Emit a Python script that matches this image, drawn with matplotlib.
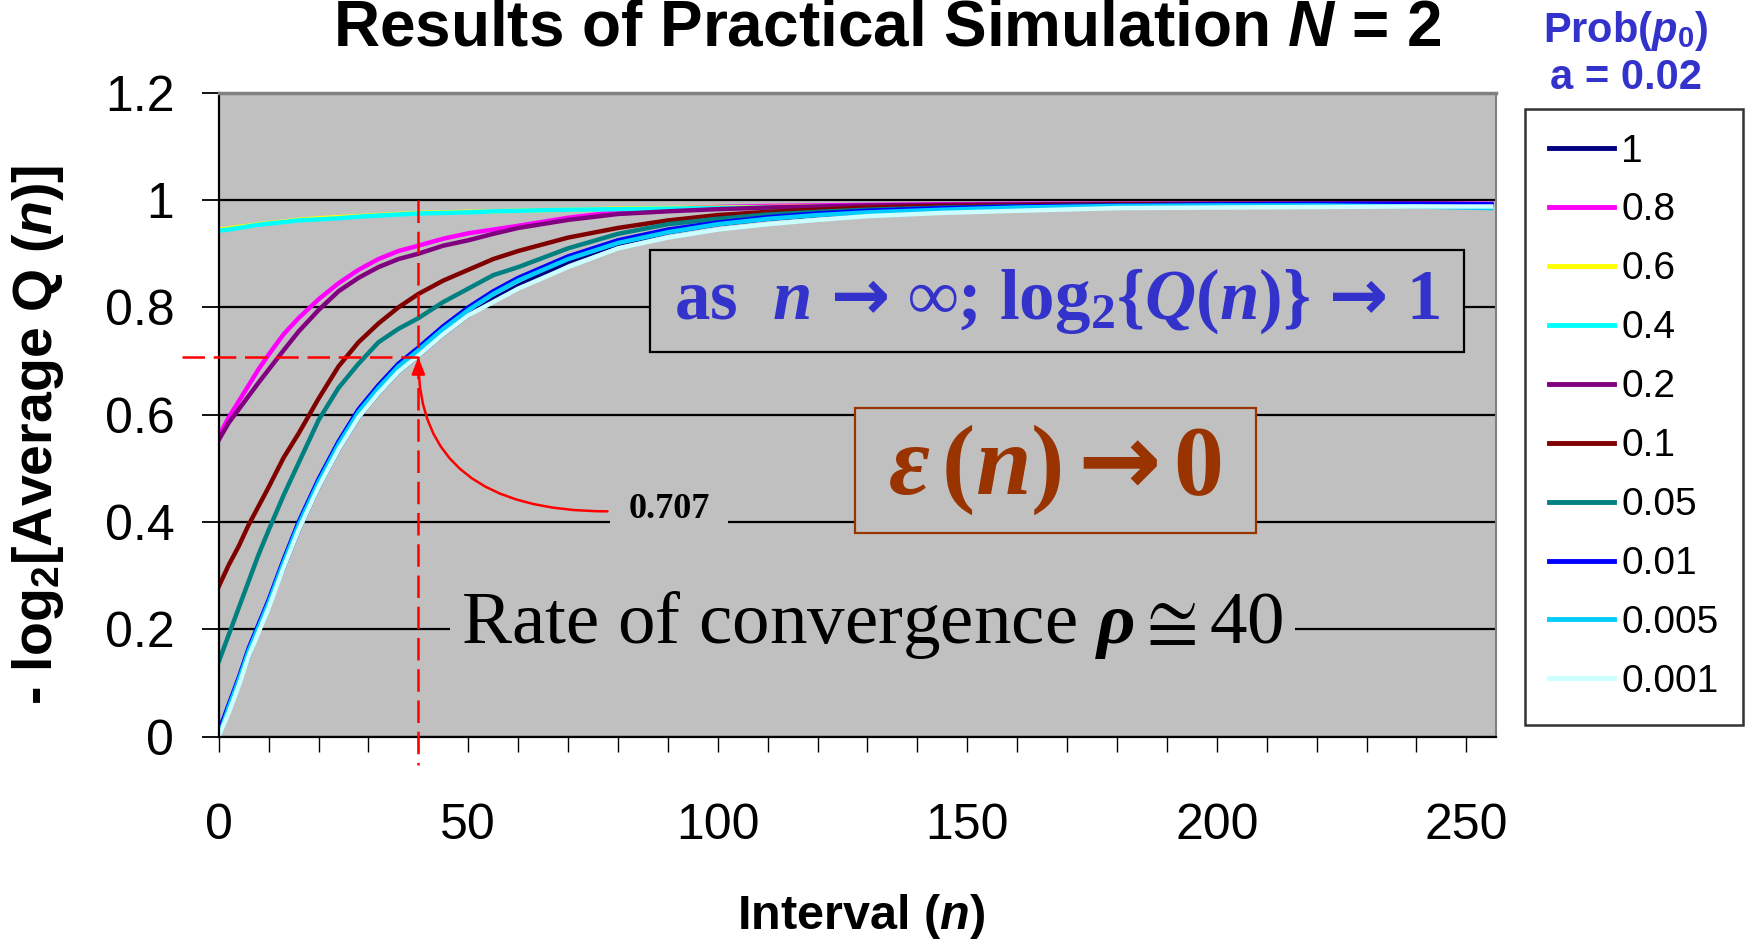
import numpy as np
import matplotlib.pyplot as plt
from matplotlib.patches import Rectangle

plt.rcParams['font.family'] = 'Liberation Sans'
plt.rcParams['mathtext.fontset'] = 'custom'
plt.rcParams['mathtext.rm'] = 'Liberation Serif:bold'
plt.rcParams['mathtext.it'] = 'Liberation Serif:italic:bold'
plt.rcParams['mathtext.bf'] = 'Liberation Serif:bold'
plt.rcParams['mathtext.sf'] = 'Liberation Sans:italic:bold'
plt.rcParams['mathtext.tt'] = 'Liberation Sans:bold'
plt.rcParams['mathtext.cal'] = 'DejaVu Sans:bold'
plt.rcParams['mathtext.fallback'] = 'stix'

n = [0, 2, 4, 6, 8, 10, 13, 16, 20, 24, 28, 32, 36, 40, 45, 50, 55, 60,
     70, 80, 90, 100, 110, 120, 130, 145, 160, 180, 200, 220, 240, 255]

p_1 = [0.00, 0.05, 0.10, 0.15, 0.20, 0.245, 0.315, 0.385, 0.465, 0.535, 0.595, 0.64,
       0.68, 0.71, 0.75, 0.785, 0.815, 0.84, 0.885, 0.918, 0.94, 0.955, 0.965, 0.972,
       0.977, 0.982, 0.985, 0.988, 0.99, 0.991, 0.991, 0.99]
p_08 = [0.56, 0.595, 0.625, 0.655, 0.685, 0.712, 0.75, 0.78, 0.815, 0.845, 0.87, 0.89,
        0.905, 0.915, 0.928, 0.938, 0.945, 0.952, 0.967, 0.978, 0.984, 0.987, 0.989, 0.99,
        0.991, 0.992, 0.993, 0.993, 0.993, 0.993, 0.994, 0.993]
p_06 = [0.945, 0.947, 0.95, 0.952, 0.955, 0.957, 0.96, 0.963, 0.966, 0.968, 0.97, 0.972,
        0.974, 0.976, 0.977, 0.978, 0.979, 0.98, 0.982, 0.984, 0.985, 0.986, 0.987, 0.988,
        0.988, 0.989, 0.99, 0.99, 0.991, 0.991, 0.991, 0.991]
p_04 = [0.943, 0.945, 0.948, 0.951, 0.954, 0.956, 0.959, 0.962, 0.964, 0.966, 0.969, 0.971,
        0.973, 0.975, 0.976, 0.977, 0.979, 0.98, 0.982, 0.983, 0.984, 0.985, 0.986, 0.987,
        0.988, 0.988, 0.989, 0.989, 0.99, 0.99, 0.99, 0.99]
p_02 = [0.553, 0.585, 0.61, 0.635, 0.66, 0.684, 0.72, 0.755, 0.795, 0.83, 0.855, 0.875,
        0.89, 0.90, 0.915, 0.925, 0.937, 0.948, 0.963, 0.974, 0.979, 0.983, 0.986, 0.988,
        0.99, 0.991, 0.992, 0.993, 0.993, 0.993, 0.993, 0.992]
p_01 = [0.28, 0.32, 0.355, 0.395, 0.43, 0.465, 0.52, 0.565, 0.63, 0.69, 0.735, 0.77,
        0.80, 0.825, 0.85, 0.87, 0.89, 0.905, 0.93, 0.948, 0.962, 0.972, 0.978, 0.982,
        0.986, 0.989, 0.99, 0.992, 0.993, 0.993, 0.993, 0.992]
p_005 = [0.14, 0.19, 0.24, 0.29, 0.34, 0.385, 0.45, 0.51, 0.59, 0.65, 0.695, 0.735,
         0.76, 0.78, 0.81, 0.835, 0.86, 0.875, 0.91, 0.937, 0.955, 0.965, 0.973, 0.978,
         0.982, 0.986, 0.988, 0.99, 0.991, 0.992, 0.992, 0.991]
p_001 = [0.01, 0.06, 0.11, 0.165, 0.21, 0.255, 0.33, 0.40, 0.48, 0.55, 0.61, 0.655,
         0.695, 0.725, 0.765, 0.80, 0.83, 0.855, 0.895, 0.925, 0.945, 0.958, 0.968, 0.975,
         0.98, 0.985, 0.988, 0.99, 0.992, 0.993, 0.993, 0.992]
p_0005 = [0.0, 0.055, 0.105, 0.16, 0.205, 0.25, 0.325, 0.395, 0.475, 0.545, 0.605, 0.65,
          0.69, 0.72, 0.76, 0.795, 0.825, 0.85, 0.89, 0.92, 0.94, 0.955, 0.965, 0.972,
          0.977, 0.982, 0.986, 0.989, 0.99, 0.99, 0.988, 0.985]
p_0001 = [0.0, 0.045, 0.095, 0.15, 0.195, 0.24, 0.315, 0.385, 0.465, 0.535, 0.595, 0.64,
          0.68, 0.71, 0.75, 0.785, 0.81, 0.835, 0.875, 0.91, 0.93, 0.945, 0.955, 0.963,
          0.97, 0.976, 0.98, 0.985, 0.986, 0.987, 0.988, 0.988]

labels = ['1', '0.8', '0.6', '0.4', '0.2', '0.1', '0.05', '0.01', '0.005', '0.001']
series = [p_1, p_08, p_06, p_04, p_02, p_01, p_005, p_001, p_0005, p_0001]
colors = ['#000080', '#FF00FF', '#FFFF00', '#00FFFF', '#800080',
          '#800000', '#008080', '#0000FF', '#00CCFF', '#CCFFFF']

yticks = [0, 0.2, 0.4, 0.6, 0.8, 1.0, 1.2]
ytick_labels = ['0', '0.2', '0.4', '0.6', '0.8', '1', '1.2']
xticks = [0, 50, 100, 150, 200, 250]

rho_n = 40
half_level = 0.707

fig = plt.figure(figsize=(17.5, 9.4), dpi=100)
ax = fig.add_axes([0.125, 0.2162, 0.73, 0.6852])
ax.set_facecolor('#C0C0C0')

for ys, c, lab in zip(series, colors, labels):
    ax.plot(n, ys, color=c, lw=3.2, label=lab, solid_joinstyle='round', zorder=2)

ax.set_xlim(0, 256)
ax.set_ylim(0, 1.2)
ax.set_yticks(yticks)
ax.set_yticklabels(ytick_labels)
ax.set_xticks(xticks)
ax.set_xticks(np.arange(0, 251, 10), minor=True)
ax.tick_params(axis='y', direction='out', length=12, width=1.3, pad=20, labelsize=36)
ax.tick_params(axis='x', which='both', direction='out', length=11, width=1.0, pad=37, labelsize=36)
ax.yaxis.grid(True, color='black', lw=1.6)
ax.set_axisbelow(True)

for side in ['left', 'bottom']:
    ax.spines[side].set_color('black')
    ax.spines[side].set_linewidth(1.6)
ax.spines['top'].set_color('#808080')
ax.spines['top'].set_linewidth(2.5)
ax.spines['right'].set_color('#808080')
ax.spines['right'].set_linewidth(1.5)

# red guide lines at n = 40, y = 0.707
ax.plot([-7.4, rho_n], [half_level, half_level], color='red', lw=1.8,
        dashes=(9, 3.5), clip_on=False, zorder=3)
ax.plot([rho_n, rho_n], [1.0, -0.052], color='red', lw=1.8,
        dashes=(9, 3.5), clip_on=False, zorder=3)
ax.annotate('', xy=(rho_n, half_level), xytext=(77.9, 0.42),
            arrowprops=dict(arrowstyle='-|>,head_length=1.0,head_width=0.4',
                            color='red', lw=1.8, shrinkA=0, shrinkB=0,
                            connectionstyle='angle3,angleA=0,angleB=90'), zorder=4)
ax.text(90.2, 0.424, '0.707', family='Liberation Serif', weight='bold', fontsize=26,
        ha='center', va='center', zorder=5,
        bbox=dict(boxstyle='square,pad=0.5', fc='#C0C0C0', ec='none'))

# boxed statements
ax.add_patch(Rectangle((86.4, 0.717), 163.2, 0.189, fc='#C0C0C0', ec='black', lw=1.6, zorder=4))
ax.text(168, 0.812, r'as  $n\ \mathcal{→}$ ∞; log$_2${$Q(n)$}$\ \mathcal{→}\ $1',
        family='Liberation Serif', weight='bold', color='#3333CC', fontsize=51,
        ha='center', va='center', zorder=5)

ax.add_patch(Rectangle((127.5, 0.380), 80.3, 0.233, fc='#C0C0C0', ec='#993300', lw=1.6, zorder=4))
ax.text(167.6, 0.497, r'$\varepsilon\,(n)\,\mathcal{→}\,0$', family='Liberation Serif',
        weight='bold', color='#993300', fontsize=72, ha='center', va='center', zorder=5)

ax.text(131, 0.208, r'Rate of convergence $\rho\cong$40', family='Liberation Serif',
        fontsize=54, ha='center', va='center', zorder=5,
        bbox=dict(boxstyle='square,pad=0.15', fc='#C0C0C0', ec='none'))

leg = ax.legend(loc='upper left', bbox_to_anchor=(0.8714, 0.884), bbox_transform=fig.transFigure,
                frameon=True, fancybox=False, edgecolor='black', fontsize=28,
                handlelength=1.65, handletextpad=0.2, labelspacing=0.59,
                borderpad=0.63, borderaxespad=0)
leg.get_frame().set_linewidth(1.8)
for line in leg.get_lines():
    line.set_linewidth(3.5)

fig.text(0.507, 0.952, r'Results of Practical Simulation $\mathsf{N}$ = 2', fontsize=46,
         weight='bold', ha='center', va='baseline')
fig.text(0.929, 0.955, r'Prob($\mathsf{p}_\mathtt{0}$)', fontsize=30, weight='bold',
         color='#3333CC', ha='center', va='baseline')
fig.text(0.929, 0.905, 'a = 0.02', fontsize=30, weight='bold',
         color='#3333CC', ha='center', va='baseline')
fig.text(0.022, 0.537, r'- log$_\mathtt{2}$[Average Q ($\mathsf{n}$)]', fontsize=40,
         weight='bold', rotation=90, ha='center', va='center')
fig.text(0.492, 0.012, r'Interval ($\mathsf{n}$)', fontsize=35, weight='bold',
         ha='center', va='baseline')

fig.savefig('out.png', dpi=100)
